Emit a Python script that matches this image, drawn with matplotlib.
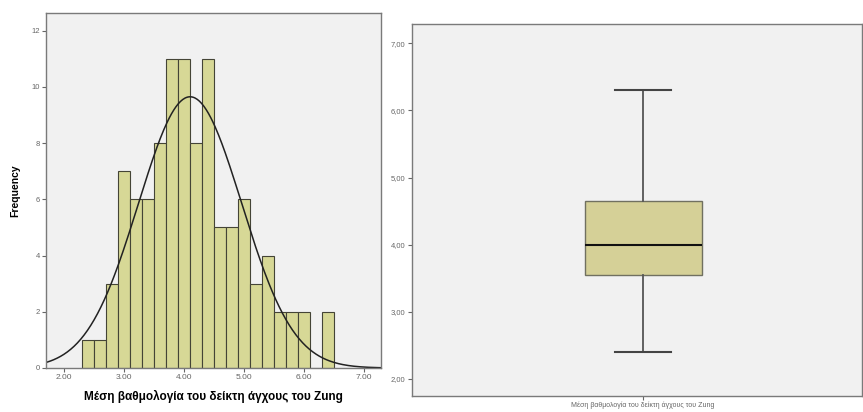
import matplotlib.pyplot as plt
import numpy as np

# histogram data (bins of 0.2)
bin_edges = [2.3, 2.5, 2.7, 2.9, 3.1, 3.3, 3.5, 3.7, 3.9, 4.1, 4.3,
             4.5, 4.7, 4.9, 5.1, 5.3, 5.5, 5.7, 5.9, 6.1, 6.3, 6.5]
counts = [1, 1, 3, 7, 6, 6, 8, 11, 11, 8, 11, 5, 5, 6, 3, 4, 2, 2, 2, 0, 2]
mean_score = 4.10
sd_score = 0.86
n_total = sum(counts)

# boxplot summary
box_label = 'Μέση βαθμολογία του δείκτη άγχους του Zung'
whisker_low = 2.40
q1 = 3.54
median = 4.00
q3 = 4.65
whisker_high = 6.31

hist_xticks = [2, 3, 4, 5, 6, 7]
hist_yticks = [0, 2, 4, 6, 8, 10, 12]
box_yticks = [2, 3, 4, 5, 6, 7]

plt.rcParams['font.family'] = ['Liberation Sans', 'DejaVu Sans']
bg = '#f1f1f1'
frame = '#7a7a7a'
tick_col = '#666666'

fig = plt.figure(figsize=(8.63, 4.12), dpi=100)
ax1 = fig.add_axes([0.0533, 0.1068, 0.3882, 0.8617])
ax2 = fig.add_axes([0.477, 0.0388, 0.5218, 0.9029])

# --- histogram ---
ax1.set_facecolor(bg)
lefts = bin_edges[:-1]
widths = np.diff(bin_edges)
ax1.bar(lefts, counts, width=widths, align='edge', color='#d7d896',
        edgecolor='#444436', linewidth=0.8)
xs = np.linspace(1.7, 7.28, 300)
bw = bin_edges[1] - bin_edges[0]
ys = n_total * bw / (sd_score * np.sqrt(2 * np.pi)) * np.exp(-0.5 * ((xs - mean_score) / sd_score) ** 2)
ax1.plot(xs, ys, color='#222222', linewidth=1.1)
ax1.set_xlim(1.7, 7.28)
ax1.set_ylim(0, 12.63)
ax1.set_xticks(hist_xticks)
ax1.set_xticklabels([f'{v:.2f}' for v in hist_xticks])
ax1.set_yticks(hist_yticks)
ax1.set_xlabel(box_label, fontsize=8.5, fontweight='bold', labelpad=6)
ax1.set_ylabel('Frequency', fontsize=7.5, fontweight='bold', labelpad=8)

# --- boxplot ---
ax2.set_facecolor(bg)
stats = [{'whislo': whisker_low, 'q1': q1, 'med': median, 'q3': q3,
          'whishi': whisker_high, 'label': box_label}]
ax2.bxp(stats, positions=[0], widths=0.26, showfliers=False, patch_artist=True,
        boxprops=dict(facecolor='#d5d097', edgecolor='#707060', linewidth=1.0),
        medianprops=dict(color='#111111', linewidth=1.5),
        whiskerprops=dict(color='#555555', linewidth=1.3),
        capprops=dict(color='#444444', linewidth=1.5),
        capwidths=0.125)
ax2.set_xlim(-0.514, 0.486)
ax2.set_ylim(1.74, 7.29)
ax2.set_yticks(box_yticks)
ax2.set_yticklabels([f'{v:.2f}'.replace('.', ',') for v in box_yticks])
ax2.set_xticks([0])
ax2.set_xticklabels([box_label])

for ax in (ax1, ax2):
    for s in ax.spines.values():
        s.set_color(frame)
        s.set_linewidth(1.0)
    ax.tick_params(axis='both', direction='out', length=3, width=0.8,
                   colors=tick_col, labelsize=5.5, pad=1.5)
ax1.tick_params(axis='x', labelsize=6)
ax2.tick_params(axis='x', labelsize=5, pad=1)

fig.savefig('out.png', dpi=100, facecolor='white')
